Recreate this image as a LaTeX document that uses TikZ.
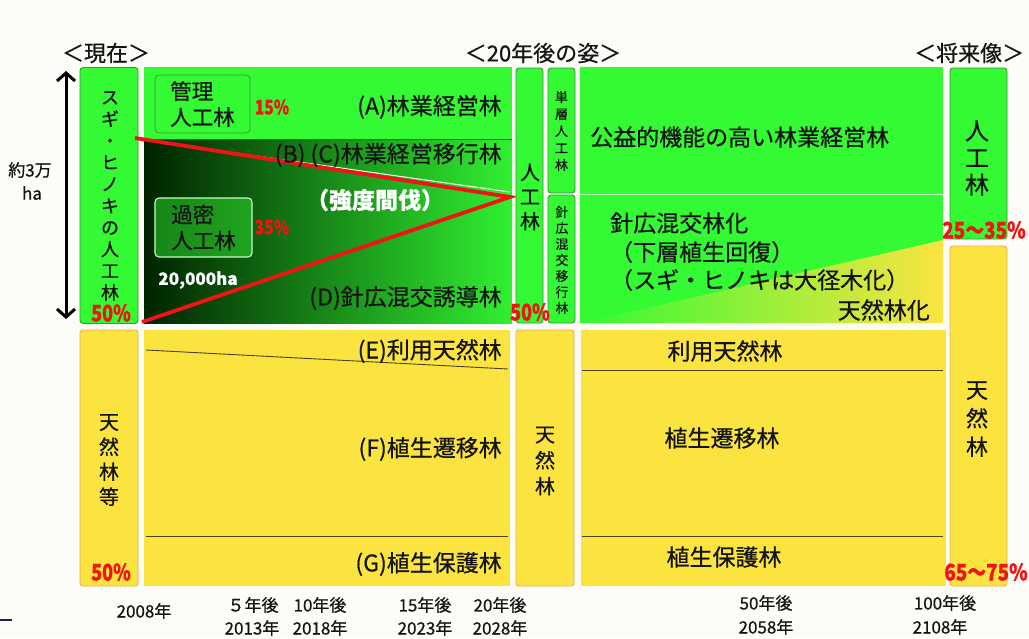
\documentclass[tikz,border=0pt]{standalone}
\usepackage{fontspec}
\setmainfont{Noto Sans CJK JP}[FakeBold=0.6]
\usepackage{graphicx}
\usetikzlibrary{arrows.meta}
\definecolor{gA}{RGB}{51,250,51}
\definecolor{gB}{RGB}{60,150,60}
\definecolor{dk}{RGB}{0,35,0}
\definecolor{yl}{RGB}{252,228,64}
\definecolor{yB}{RGB}{240,170,90}
\definecolor{rd}{RGB}{240,20,20}
\definecolor{bg}{RGB}{253,252,247}
\definecolor{tx}{RGB}{20,20,20}
\definecolor{ln}{RGB}{75,65,30}
\newcommand\sqz[2]{\scalebox{#1}[1]{#2}}
\begin{document}
\begin{tikzpicture}[x=1pt,y=-1pt,
  gbox/.style={draw=gB,fill=gA,rounded corners=3pt,line width=0.9pt,inner sep=0pt},
  ybox/.style={draw=yB,fill=yl,rounded corners=3pt,line width=0.9pt,inner sep=0pt},
  lbl/.style={font=\fontsize{23}{27}\selectfont,text=tx,inner sep=0pt},
  vt/.style={align=center,inner sep=0pt,text=tx},
  pct/.style={text=rd,inner sep=0pt},
  axl/.style={font=\fontsize{17}{20}\selectfont,text=tx,inner sep=0pt},
  hdr/.style={font=\fontsize{22}{26}\selectfont,text=tx,inner sep=0pt},
  sep/.style={draw=ln,line width=0.9pt}]
\useasboundingbox (0,0) rectangle (1029,638);
\fill[bg] (0,0) rectangle (1029,638);

% headers
\node[hdr] (hnow) at (106,53) {＜現在＞};
\node[hdr] (h20) at (543,53) {＜20年後の姿＞};
\node[hdr,anchor=west] (hfut) at (914,53) {＜将来像＞};

% size arrow
\coordinate (arT) at (66,71);
\coordinate (arB) at (66,319);
\draw[line width=3pt,{Straight Barb[length=8pt,width=18pt]}-{Straight Barb[length=8pt,width=18pt]}] (arT) -- (arB);
\node[font=\fontsize{17}{20}\selectfont,text=tx,inner sep=0pt] (area1) at (30,170) {約3万};
\node[font=\fontsize{17}{20}\selectfont,text=tx,inner sep=0pt] (area2) at (32,193) {ha};

% present columns
\node[gbox,minimum width=58pt,minimum height=256pt] (sugibox) at (109,195.5) {};
\node[ybox,minimum width=58pt,minimum height=256pt] (tenbox) at (109,458) {};
\node[vt,font=\fontsize{18}{21.7}\selectfont] (sugitxt) at (110,196) {ス\\ギ\\・\\ヒ\\ノ\\キ\\の\\人\\工\\林};
\node[vt,font=\fontsize{20}{25}\selectfont] (tentxt) at (109,460) {天\\然\\林\\等};
\node[pct,font=\fontsize{23}{26}\selectfont\bfseries] (p50a) at (111,313) {\sqz{0.78}{50\%}};
\node[pct,font=\fontsize{23}{26}\selectfont\bfseries] (p50b) at (111,572) {\sqz{0.78}{50\%}};

% left transition region (upper)
\fill[gA] (144,67) rectangle (512,139);
\begin{scope}
  \clip (144,139) rectangle (512,323);
  \shade[left color=dk,right color=gA] (144,139) rectangle (530,323);
\end{scope}
\draw[draw=black!70,line width=0.8pt] (144,139) -- (512,139);
\coordinate (apex) at (510,197);
\coordinate (wl) at (144,140);
\coordinate (wr) at (510,192);
\draw[white,line width=1pt] (wl) -- (wr);
\coordinate (rt) at (135,138);
\coordinate (rb) at (142,322);
\draw[rd,line width=3.8pt,line join=miter] (rt) -- (apex) -- (rb);

\node[draw=gB,fill=gA,rounded corners=4pt,line width=0.8pt,minimum width=95pt,minimum height=58pt,align=left,inner sep=0pt,font=\fontsize{21.5}{26}\selectfont,text=tx] (kanri) at (202.5,104) {管理\\人工林};
\node[draw=white!70!gA,fill=gA,fill opacity=0.45,text opacity=1,rounded corners=4pt,line width=1.1pt,minimum width=97pt,minimum height=59pt,align=left,inner sep=0pt,font=\fontsize{21.5}{26}\selectfont,text=tx] (kamitsu) at (203.5,227.5) {過密\\人工林};
\node[pct,font=\fontsize{20}{22}\selectfont\bfseries] (p15) at (272,107) {\sqz{0.78}{15\%}};
\node[pct,font=\fontsize{20}{22}\selectfont\bfseries] (p35) at (272,227) {\sqz{0.78}{35\%}};
\node[inner sep=0pt,text=white,font=\fontsize{17}{20}\selectfont\bfseries] (ha2) at (198,280) {20,000ha};
\node[inner sep=0pt,text=white,font=\fontsize{23}{27}\selectfont\bfseries] (kyodo) at (375,200) {（強度間伐）};
\node[lbl,anchor=east] (lA) at (502,107) {(A)林業経営林};
\node[lbl,anchor=east] (lBC) at (502,155) {(B) (C)林業経営移行林};
\node[lbl,anchor=east] (lD) at (502,298) {(D)針広混交誘導林};

% left transition region (lower)
\fill[yl] (144,330) rectangle (510,586);
\coordinate (eL) at (146,350);
\coordinate (eR) at (508,369);
\draw[sep] (eL) -- (eR);
\coordinate (gL) at (146,536);
\coordinate (gR) at (508,536);
\draw[sep] (gL) -- (gR);
\node[lbl,anchor=east] (lE) at (502,351) {(E)利用天然林};
\node[lbl,anchor=east] (lF) at (502,449) {(F)植生遷移林};
\node[lbl,anchor=east] (lG) at (502,564) {(G)植生保護林};

% 20 years columns
\node[gbox,minimum width=27pt,minimum height=255pt] (jin20) at (529.5,195.5) {};
\node[gbox,minimum width=27pt,minimum height=125pt] (tanso) at (561.5,130.5) {};
\node[gbox,minimum width=27pt,minimum height=128pt] (shinko) at (561.5,259) {};
\node[ybox,minimum width=58pt,minimum height=256pt] (ten20) at (545,458) {};
\node[vt,font=\fontsize{20}{24.5}\selectfont] (jin20t) at (530,197) {人\\工\\林};
\node[vt,font=\fontsize{13}{17}\selectfont] (tansot) at (561.5,131) {単\\層\\人\\工\\林};
\node[vt,font=\fontsize{13}{16}\selectfont] (shinkot) at (562,260) {針\\広\\混\\交\\移\\行\\林};
\node[vt,font=\fontsize{20}{26}\selectfont] (ten20t) at (545,461) {天\\然\\林};
\node[pct,font=\fontsize{23}{26}\selectfont\bfseries] (p50c) at (530,312) {\sqz{0.78}{50\%}};

% future region (upper)
\fill[gA] (580,67) rectangle (943,323);
\begin{scope}
  \clip (582,323) -- (943,240) -- (943,323) -- cycle;
  \shade[left color=gA,right color=yl] (582,240) rectangle (943,323);
\end{scope}
\draw[white,opacity=0.7,line width=1pt] (580,194) -- (943,194);
\node[lbl,anchor=west] (kouek) at (590,137) {公益的機能の高い林業経営林};
\node[lbl,anchor=west] (f1) at (610,223) {針広混交林化};
\node[lbl,anchor=west] (f2) at (610,252) {（下層植生回復）};
\node[lbl,anchor=west] (f3) at (610,280) {（スギ・ヒノキは大径木化）};
\node[lbl,anchor=east] (f4) at (930,310) {天然林化};

% future region (lower)
\fill[yl] (581,330) rectangle (946,586);
\coordinate (r1L) at (582,370);
\coordinate (r1R) at (943,370);
\draw[sep] (r1L) -- (r1R);
\coordinate (r2L) at (582,536);
\coordinate (r2R) at (943,536);
\draw[sep] (r2L) -- (r2R);
\node[lbl] (rE) at (725,351) {利用天然林};
\node[lbl] (rF) at (722,438) {植生遷移林};
\node[lbl] (rG) at (724,557) {植生保護林};

% future columns
\node[gbox,minimum width=57pt,minimum height=171pt] (jinF) at (978.5,153.5) {};
\node[ybox,minimum width=57pt,minimum height=340pt] (tenF) at (978.5,416) {};
\node[vt,font=\fontsize{24}{27}\selectfont] (jinFt) at (977,158) {人\\工\\林};
\node[vt,font=\fontsize{22}{28.5}\selectfont] (tenFt) at (977,419) {天\\然\\林};
\node[pct,font=\fontsize{23}{26}\selectfont\bfseries] (p2535) at (984,230) {\sqz{0.82}{25～35\%}};
\node[pct,font=\fontsize{23}{26}\selectfont\bfseries] (p6575) at (986,572) {\sqz{0.82}{65～75\%}};

% time axis
\node[axl] (t0) at (144,611) {2008年};
\node[axl] (t5a) at (253,605) {５年後};
\node[axl] (t5b) at (252,628) {2013年};
\node[axl] (t10a) at (320,605) {10年後};
\node[axl] (t10b) at (320,628) {2018年};
\node[axl] (t15a) at (425,605) {15年後};
\node[axl] (t15b) at (425,628) {2023年};
\node[axl] (t20a) at (500,605) {20年後};
\node[axl] (t20b) at (500,628) {2028年};
\node[axl] (t50a) at (766,603) {50年後};
\node[axl] (t50b) at (766,627) {2058年};
\node[axl] (t100a) at (945,603) {100年後};
\node[axl] (t100b) at (940,627) {2108年};

% slide edge mark
\coordinate (mkL) at (0,620);
\coordinate (mkR) at (12,620);
\draw[draw={rgb,255:red,30;green,30;blue,90},line width=1.5pt] (mkL) -- (mkR);
\end{tikzpicture}
\end{document}
